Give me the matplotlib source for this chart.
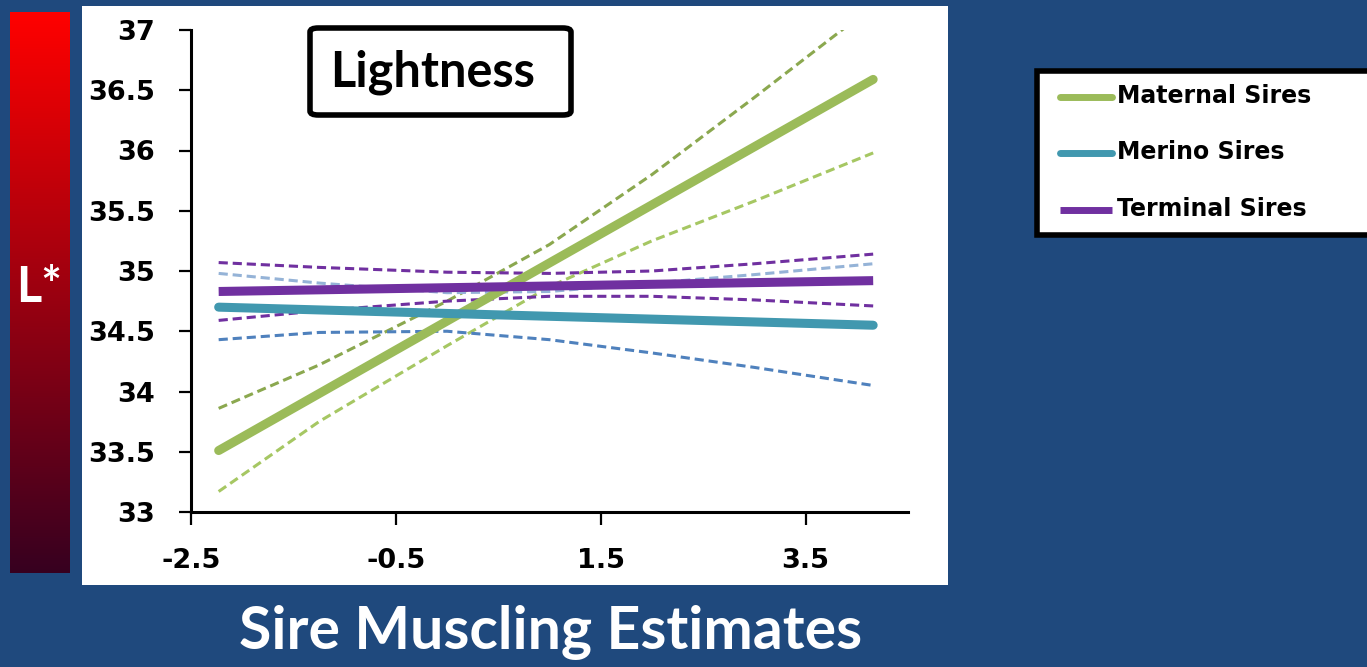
import numpy as np
import matplotlib
matplotlib.use("Agg")
import matplotlib.pyplot as plt
from matplotlib.patches import Rectangle, FancyBboxPatch
from matplotlib.lines import Line2D

plt.rcParams['font.family'] = ['Lato', 'DejaVu Sans']

# ---- data -------------------------------------------------------------
x_fit = [-2.23, 4.16]
maternal_fit = [33.51, 36.59]
merino_fit = [34.70, 34.55]
terminal_fit = [34.83, 34.92]

x_band = [-2.23, -1.25, 0.0, 1.0, 2.0, 3.0, 4.16]
maternal_upper = [33.86, 34.22, 34.75, 35.22, 35.80, 36.44, 37.20]
maternal_lower = [33.17, 33.75, 34.38, 34.87, 35.25, 35.58, 35.98]
merino_upper = [34.98, 34.90, 34.82, 34.83, 34.90, 34.97, 35.06]
merino_lower = [34.43, 34.49, 34.50, 34.43, 34.32, 34.20, 34.05]
terminal_upper = [35.07, 35.03, 34.99, 34.98, 35.00, 35.06, 35.14]
terminal_lower = [34.59, 34.67, 34.75, 34.79, 34.79, 34.76, 34.71]

series_names = ["Maternal Sires", "Merino Sires", "Terminal Sires"]
x_ticks = [-2.5, -0.5, 1.5, 3.5]
y_ticks = [33, 33.5, 34, 34.5, 35, 35.5, 36, 36.5, 37]

# ---- styling ----------------------------------------------------------
W, H = 1367, 667
BG = '#1F497D'
GREEN = '#9BBB59'
GREEN_DARK = '#8BA84F'
GREEN_LIGHT = '#A6C763'
TEAL = '#4198AF'
BLUE_LIGHT = '#95B3D7'
BLUE = '#4F81BD'
PURPLE = '#7030A0'


def fx(px):
    return px / W


def fy(py):
    return 1 - py / H


fig = plt.figure(figsize=(W / 100, H / 100), dpi=100, facecolor=BG)

# white chart panel
fig.patches.append(Rectangle((fx(82), fy(585)), fx(866), 579 / H,
                             transform=fig.transFigure, facecolor='white',
                             edgecolor='none', zorder=-2))

# red lightness gradient strip
gax = fig.add_axes([fx(10), fy(573), fx(60), 561 / H])
t = np.linspace(0, 1, 256)[:, None]
top = np.array([255, 0, 0]) / 255
bottom = np.array([55, 0, 32]) / 255
grad = (top[None, None, :] * (1 - t[:, :, None]) + bottom[None, None, :] * t[:, :, None])
gax.imshow(grad, aspect='auto', extent=[0, 1, 0, 1])
gax.set_axis_off()
fig.text(fx(39), fy(287), "L*", color='white', fontsize=35, fontweight='bold',
         ha='center', va='center', zorder=5)

# main axes
ax = fig.add_axes([fx(191), fy(512), fx(908 - 191), (512 - 30) / H])
ax.set_zorder(1)
ax.patch.set_alpha(0)
ax.set_xlim(-2.5, 4.5)
ax.set_ylim(33, 37)
for s in ['top', 'right']:
    ax.spines[s].set_visible(False)
for s in ['left', 'bottom']:
    ax.spines[s].set_linewidth(2.2)
ax.set_xticks(x_ticks)
ax.set_yticks(y_ticks)
ax.set_xticklabels([f"{v:g}" for v in x_ticks])
ax.set_yticklabels([f"{v:g}" for v in y_ticks])
ax.tick_params(axis='both', direction='out', length=9, width=1.6, pad=17,
               labelsize=19.5)
for lab in ax.get_xticklabels() + ax.get_yticklabels():
    lab.set_fontfamily('DejaVu Sans')
    lab.set_fontweight('bold')

dash = (3, 1.6)
band_lw = 2.2
ax.plot(x_band, maternal_upper, color=GREEN_DARK, lw=band_lw, dashes=dash)
ax.plot(x_band, maternal_lower, color=GREEN_LIGHT, lw=band_lw, dashes=dash)
ax.plot(x_band, merino_upper, color=BLUE_LIGHT, lw=band_lw, dashes=dash)
ax.plot(x_band, merino_lower, color=BLUE, lw=band_lw, dashes=dash)
ax.plot(x_band, terminal_upper, color=PURPLE, lw=band_lw, dashes=dash)
ax.plot(x_band, terminal_lower, color=PURPLE, lw=band_lw, dashes=dash)

main_lw = 6.5
ax.plot(x_fit, maternal_fit, color=GREEN, lw=main_lw, solid_capstyle='round')
ax.plot(x_fit, merino_fit, color=TEAL, lw=main_lw, solid_capstyle='round')
ax.plot(x_fit, terminal_fit, color=PURPLE, lw=main_lw, solid_capstyle='butt')

# title box
fig.patches.append(FancyBboxPatch((fx(310), fy(115)), fx(261), 87 / H,
                                  boxstyle='round,pad=0,rounding_size=0.006',
                                  transform=fig.transFigure, facecolor='white',
                                  edgecolor='black', linewidth=4, zorder=5))
fig.text(fx(433), fy(72), "Lightness", fontsize=35, fontweight='bold',
         ha='center', va='center', color='black', zorder=6)

# legend box
fig.patches.append(Rectangle((fx(1037), fy(235)), fx(360), 164 / H,
                             transform=fig.transFigure, facecolor='white',
                             edgecolor='black', linewidth=4, zorder=5))
legend_y = [97, 153, 210]
legend_colors = [GREEN, TEAL, PURPLE]
legend_caps = ['round', 'round', 'butt']
for name, yy, col, cap in zip(series_names, legend_y, legend_colors, legend_caps):
    fig.lines.append(Line2D([fx(1060), fx(1112)], [fy(yy), fy(yy)],
                            transform=fig.transFigure, color=col, lw=5,
                            solid_capstyle=cap, zorder=6))
    fig.text(fx(1117), fy(yy - 1), name, fontsize=17, fontweight='bold',
             family='DejaVu Sans', ha='left', va='center', color='black',
             zorder=6)

# x-axis caption
fig.text(fx(551), fy(632), "Sire Muscling Estimates", fontsize=42.5,
         fontweight='bold', ha='center', va='center', color='white')

fig.savefig("out.png", dpi=100, facecolor=BG)
